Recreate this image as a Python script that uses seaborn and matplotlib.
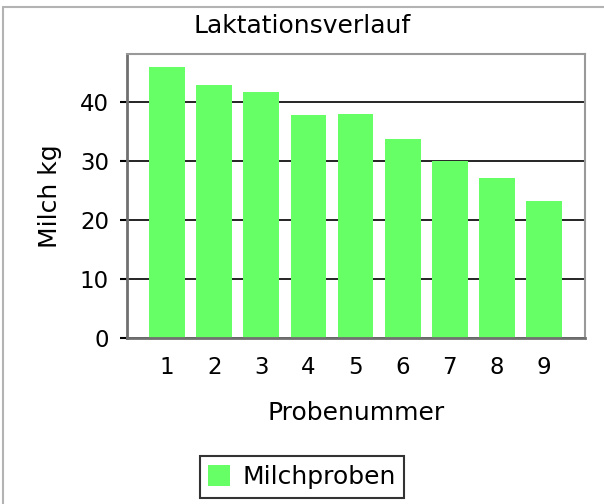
import matplotlib
matplotlib.use("Agg")
import matplotlib.pyplot as plt
from matplotlib.lines import Line2D
import seaborn as sns
import pandas as pd

# Data
proben = ["1", "2", "3", "4", "5", "6", "7", "8", "9"]
milch = [46.0, 43.0, 41.8, 37.8, 38.0, 33.8, 30.1, 27.2, 23.3]
yticks = [0, 10, 20, 30, 40]
title = "Laktationsverlauf"
xlabel = "Probenummer"
ylabel = "Milch kg"
series_name = "Milchproben"

sns.set_style("white")
plt.rcParams["font.family"] = ["DejaVu Sans"]
plt.rcParams["text.color"] = "black"
plt.rcParams["axes.labelcolor"] = "black"
plt.rcParams["xtick.color"] = "black"
plt.rcParams["ytick.color"] = "black"

df = pd.DataFrame({"Probe": proben, "Milch": milch})

fig = plt.figure(figsize=(6.04, 5.04), dpi=100)
ax = fig.add_axes([127 / 604, 1 - 338 / 504, 458 / 604, 284 / 504])

sns.barplot(data=df, x="Probe", y="Milch", color="#66FF66", saturation=1,
            width=0.76, ax=ax, label=series_name, edgecolor="none", linewidth=0)
if ax.get_legend() is not None:
    ax.get_legend().remove()

ax.set_xlim(-0.85, 8.87)
ax.set_ylim(0, 48.2)
ax.set_yticks(yticks)
ax.set_axisbelow(True)
ax.yaxis.grid(True, color="black", linewidth=1.2)
ax.xaxis.grid(False)

for side in ["left", "bottom"]:
    ax.spines[side].set_color("#707070")
    ax.spines[side].set_linewidth(2)
for side in ["top", "right"]:
    ax.spines[side].set_color("#999999")
    ax.spines[side].set_linewidth(1.5)
    ax.spines[side].set_visible(True)

ax.tick_params(axis="y", which="both", left=True, length=5, width=1.5,
               color="black", labelcolor="black", labelsize=16.5, pad=8)
ax.tick_params(axis="x", which="both", bottom=False, length=0,
               labelcolor="black", labelsize=16.5, pad=13)

ax.set_xlabel(xlabel, fontsize=18, color="black")
ax.set_ylabel(ylabel, fontsize=18, color="black")
ax.xaxis.label.set_va("center")
ax.xaxis.set_label_coords(0.5, (338 - 413) / 284)
ax.yaxis.label.set_va("center")
ax.yaxis.label.set_ha("center")
ax.yaxis.set_label_coords((50 - 127) / 458, 0.5)

fig.text(0.5, 1 - 26 / 504, title, ha="center", va="center", fontsize=18,
         color="black")

handles, labels = ax.get_legend_handles_labels()
leg = fig.legend(handles[:1], labels[:1], loc="center",
                 bbox_to_anchor=(0.5, 1 - 477 / 504), fontsize=18,
                 frameon=True, fancybox=False, edgecolor="black",
                 handlelength=0.88, handleheight=0.88, handletextpad=0.48,
                 borderpad=0.35, borderaxespad=0, labelcolor="black")
leg.get_frame().set_linewidth(1.5)

# outer frame lines (top and left)
fig.add_artist(Line2D([3 / 604, 1.01], [1 - 6.5 / 504, 1 - 6.5 / 504],
                      transform=fig.transFigure, color="#b3b3b3", linewidth=1.5))
fig.add_artist(Line2D([3 / 604, 3 / 604], [-0.01, 1 - 6.5 / 504],
                      transform=fig.transFigure, color="#b3b3b3", linewidth=1.5))

fig.savefig("out.png", dpi=100)
